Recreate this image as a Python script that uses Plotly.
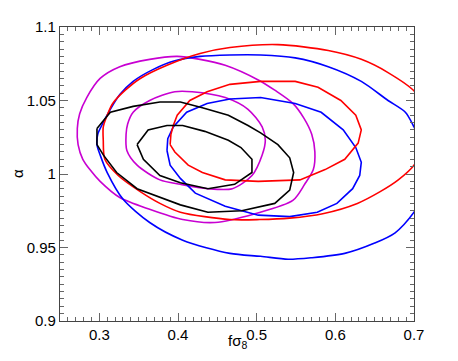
import plotly.graph_objects as go

# contour outlines: (f sigma_8, alpha)
black_outer_x = [0.297, 0.297, 0.305, 0.322, 0.348, 0.377, 0.403, 0.438, 0.481, 0.523, 0.542, 0.547,
                 0.542, 0.527, 0.505, 0.489, 0.464, 0.431, 0.403, 0.377, 0.343, 0.314, 0.297]
black_outer_y = [1.031, 1.020, 1.013, 1.001, 0.990, 0.984, 0.979, 0.974, 0.975, 0.980, 0.989, 1.001,
                 1.011, 1.020, 1.028, 1.033, 1.040, 1.045, 1.049, 1.049, 1.046, 1.042, 1.031]

black_inner_x = [0.348, 0.356, 0.377, 0.403, 0.438, 0.472, 0.494, 0.494, 0.480, 0.464, 0.434, 0.406,
                 0.386, 0.362, 0.348]
black_inner_y = [1.020, 1.010, 0.999, 0.994, 0.990, 0.993, 1.001, 1.010, 1.018, 1.023, 1.029, 1.033,
                 1.033, 1.030, 1.020]

magenta_outer_x = [0.272, 0.273, 0.279, 0.288, 0.301, 0.326, 0.364, 0.406, 0.447, 0.498, 0.546, 0.561,
                   0.572, 0.574, 0.570, 0.560, 0.546, 0.523, 0.502, 0.460, 0.428, 0.399, 0.364, 0.326,
                   0.301, 0.284, 0.275, 0.272]
magenta_outer_y = [1.031, 1.020, 1.010, 1.003, 0.995, 0.984, 0.976, 0.969, 0.967, 0.973, 0.982, 0.993,
                   1.003, 1.015, 1.027, 1.038, 1.048, 1.057, 1.064, 1.074, 1.078, 1.080, 1.078, 1.073,
                   1.065, 1.052, 1.041, 1.031]

magenta_inner_x = [0.334, 0.335, 0.348, 0.377, 0.403, 0.438, 0.469, 0.494, 0.507, 0.511, 0.507, 0.489,
                   0.460, 0.418, 0.396, 0.364, 0.343, 0.336, 0.334]
magenta_inner_y = [1.027, 1.016, 1.006, 0.996, 0.993, 0.990, 0.990, 0.999, 1.013, 1.023, 1.032, 1.044,
                   1.052, 1.056, 1.056, 1.050, 1.042, 1.034, 1.027]

blue_outer_x = [0.297, 0.298, 0.303, 0.314, 0.326, 0.343, 0.368, 0.396, 0.428, 0.466, 0.505, 0.549,
                0.591, 0.633, 0.667, 0.689, 0.700, 0.711, 0.718, 0.713, 0.700, 0.676, 0.650, 0.612,
                0.569, 0.540, 0.505, 0.466, 0.406, 0.364, 0.330, 0.310, 0.301, 0.297]
blue_outer_y = [1.020, 1.027, 1.033, 1.044, 1.054, 1.063, 1.071, 1.077, 1.080, 1.081, 1.081, 1.079,
                1.073, 1.063, 1.050, 1.042, 1.032, 1.019, 1.003, 0.986, 0.974, 0.960, 0.953, 0.946,
                0.943, 0.942, 0.944, 0.946, 0.955, 0.967, 0.983, 1.001, 1.013, 1.020]

blue_inner_x = [0.386, 0.387, 0.394, 0.411, 0.437, 0.466, 0.505, 0.549, 0.582, 0.610, 0.626, 0.633,
                0.631, 0.622, 0.602, 0.577, 0.542, 0.502, 0.460, 0.422, 0.403, 0.390, 0.386]
blue_inner_y = [1.016, 1.024, 1.032, 1.042, 1.048, 1.051, 1.052, 1.048, 1.042, 1.030, 1.018, 1.008,
                0.999, 0.990, 0.980, 0.974, 0.971, 0.972, 0.978, 0.987, 0.997, 1.006, 1.016]

red_outer_x = [0.305, 0.305, 0.310, 0.317, 0.333, 0.352, 0.386, 0.428, 0.466, 0.527, 0.591, 0.633,
               0.667, 0.701, 0.710, 0.715, 0.711, 0.700, 0.680, 0.657, 0.628, 0.584, 0.542, 0.504,
               0.466, 0.403, 0.377, 0.352, 0.324, 0.307, 0.305]
red_outer_y = [1.023, 1.032, 1.040, 1.048, 1.057, 1.065, 1.074, 1.082, 1.086, 1.088, 1.084, 1.078,
               1.069, 1.056, 1.047, 1.033, 1.018, 1.006, 0.996, 0.988, 0.980, 0.973, 0.970, 0.969,
               0.969, 0.974, 0.980, 0.988, 0.999, 1.010, 1.023]

red_inner_x = [0.390, 0.391, 0.394, 0.399, 0.415, 0.437, 0.466, 0.505, 0.549, 0.578, 0.607, 0.626,
               0.633, 0.629, 0.612, 0.587, 0.555, 0.502, 0.460, 0.431, 0.413, 0.396, 0.390]
red_inner_y = [1.020, 1.027, 1.033, 1.040, 1.050, 1.056, 1.061, 1.063, 1.063, 1.059, 1.050, 1.040,
               1.030, 1.021, 1.010, 1.003, 0.996, 0.995, 0.996, 1.001, 1.006, 1.015, 1.020]

x_ticks = [0.3, 0.4, 0.5, 0.6, 0.7]
x_labels = ["0.3", "0.4", "0.5", "0.6", "0.7"]
y_ticks = [0.9, 0.95, 1.0, 1.05, 1.1]
y_labels = ["0.9", "0.95", "1", "1.05", "1.1"]

MAGENTA = "#C800D2"
FONT = "Liberation Sans, Arial"

contours = [
    (magenta_outer_x, magenta_outer_y, MAGENTA, "spline"),
    (magenta_inner_x, magenta_inner_y, MAGENTA, "spline"),
    (blue_outer_x, blue_outer_y, "#0000FF", "spline"),
    (blue_inner_x, blue_inner_y, "#0000FF", "linear"),
    (red_outer_x, red_outer_y, "#FF0000", "spline"),
    (red_inner_x, red_inner_y, "#FF0000", "linear"),
    (black_outer_x, black_outer_y, "black", "linear"),
    (black_inner_x, black_inner_y, "black", "linear"),
]

fig = go.Figure()
for xs, ys, col, shape in contours:
    fig.add_trace(go.Scatter(
        x=xs, y=ys, mode="lines",
        line=dict(color=col, width=1.6, shape=shape, smoothing=0.8),
        showlegend=False, hoverinfo="skip",
    ))

axis_common = dict(
    showgrid=False, zeroline=False, automargin=False,
    showline=True, linecolor="#444", linewidth=1.2, mirror="ticks",
    ticks="inside", ticklen=8, tickwidth=1, tickcolor="#666",
    tickfont=dict(family=FONT, size=15, color="black"),
)

fig.update_xaxes(
    range=[0.25, 0.7], tickvals=x_ticks, ticktext=x_labels,
    minor=dict(dtick=0.01, ticks="inside", ticklen=4, tickcolor="#666", showgrid=False),
    **axis_common,
)
fig.update_yaxes(
    range=[0.9, 1.1], tickvals=y_ticks, ticktext=y_labels,
    minor=dict(dtick=0.005, ticks="inside", ticklen=4, tickcolor="#666", showgrid=False),
    **axis_common,
)

# axis titles placed by hand
fig.add_annotation(text="fσ<sub>8</sub>", xref="paper", yref="paper", x=0.5, y=0,
                   xanchor="center", yanchor="top", yshift=-9, showarrow=False,
                   font=dict(family=FONT, size=15, color="black"))
fig.add_annotation(text="α", xref="paper", yref="paper", x=0, y=0.5, textangle=-90,
                   xanchor="center", yanchor="middle", xshift=-43, showarrow=False,
                   font=dict(family=FONT, size=15, color="black"))

# page body adds an 8px offset, so the figure is trimmed to fit the window
fig.update_layout(
    width=450, height=353,
    margin=dict(l=52, r=44, t=19, b=40),
    plot_bgcolor="white", paper_bgcolor="white",
)

fig.write_html("out.html")
